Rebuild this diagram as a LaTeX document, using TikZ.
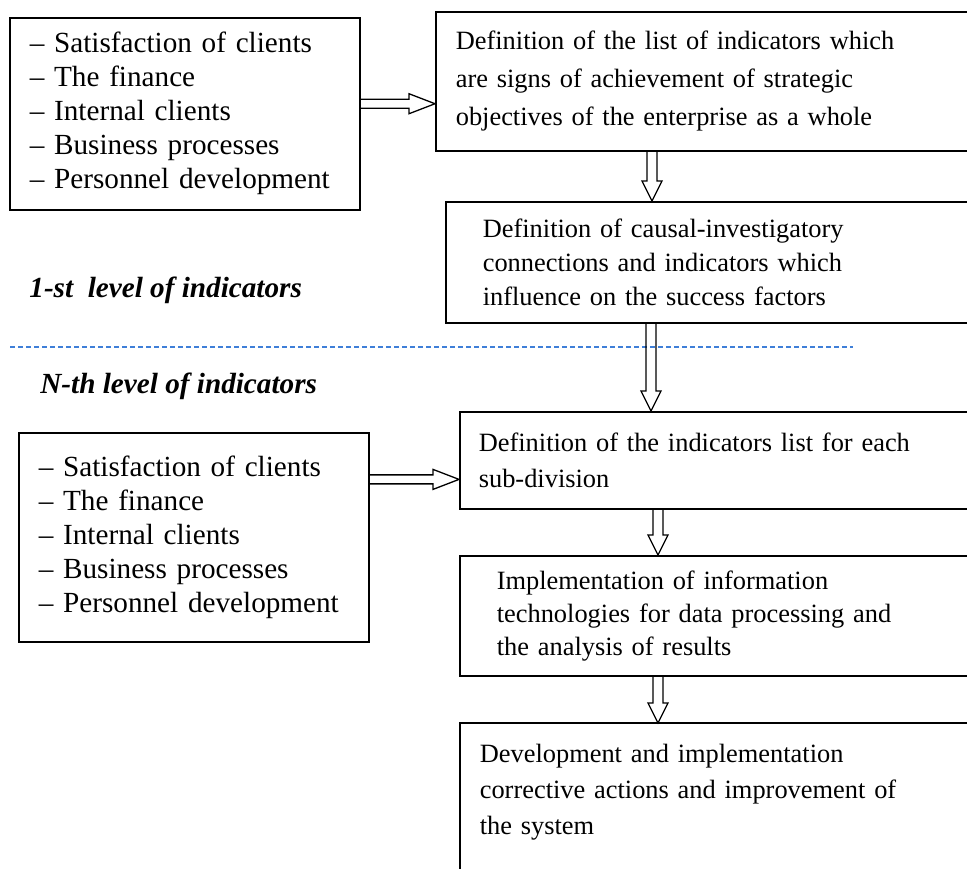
\documentclass[tikz,border=0pt]{standalone}
\usepackage{fontspec}
\setmainfont{Liberation Serif}
\usetikzlibrary{calc}
\definecolor{levelblue}{HTML}{3F7FD8}
\tikzset{
    stagebox/.style={
        draw, line width=0.8pt,
        anchor=north west, align=left,
        inner ysep=0pt,
        font=\fontsize{13.2}{17}\selectfont
    },
    listbox/.style={
        stagebox, inner xsep=10pt, text width=155pt,
        font=\fontsize{14.6}{17}\selectfont
    },
    levellabel/.style={
        anchor=base west, inner sep=0pt,
        font=\fontsize{14.6}{17}\selectfont\bfseries\itshape
    },
    divider/.style={
        levelblue, line width=0.6pt,
        dash pattern=on 2.5pt off 1.5pt
    },
    % hollow block arrows, shaft open at the start box
    harrow/.style={
        line width=0.65pt,
        to path={
            ($(\tikztostart)+(0,-4.5)$) -- ($(\tikztotarget)+(-26,-4.5)$)
            -- ($(\tikztotarget)+(-26,-10)$) -- (\tikztotarget)
            -- ($(\tikztotarget)+(-26,10)$) -- ($(\tikztotarget)+(-26,4.5)$)
            -- ($(\tikztostart)+(0,4.5)$)
        }
    },
    varrow/.style={
        line width=0.65pt,
        to path={
            ($(\tikztostart)+(-5,0)$) -- ($(\tikztotarget)+(-5,-20)$)
            -- ($(\tikztotarget)+(-10,-20)$) -- (\tikztotarget)
            -- ($(\tikztotarget)+(10,-20)$) -- ($(\tikztotarget)+(5,-20)$)
            -- ($(\tikztostart)+(5,0)$)
        }
    }
}

\begin{document}
\begin{tikzpicture}[x=0.5pt,y=-0.5pt]
    \useasboundingbox (0,0) rectangle (967,868);
    \clip (0,0) rectangle (967,868);

    % first level
    \node[listbox, minimum height=96pt] (goals1) at (9,17)
        {– Satisfaction of clients\\– The finance\\– Internal clients\\– Business processes\\– Personnel development};
    \node[stagebox, inner xsep=10pt, text width=262.5pt, minimum height=69.5pt,
          font=\fontsize{13.2}{19}\selectfont] (listall) at (435,11)
        {Definition of the list of indicators which\\are signs of achievement of strategic\\objectives of the enterprise as a whole};
    \node[stagebox, inner xsep=18.5pt, text width=240.5pt, minimum height=60.5pt] (causal) at (445,201)
        {Definition of causal-investigatory\\connections and indicators which\\influence on the success factors};
    \node[levellabel] (level1) at (29,297) {1-st~ level of indicators};

    \draw[divider] (10,347) -- (853,347);

    % N-th level
    \node[levellabel] (levelN) at (40,393) {N-th level of indicators};
    \node[listbox, minimum height=104.5pt] (goalsN) at (18,432)
        {– Satisfaction of clients\\– The finance\\– Internal clients\\– Business processes\\– Personnel development};
    \node[stagebox, inner xsep=9.5pt, text width=251.5pt, minimum height=48.5pt,
          font=\fontsize{13.2}{18}\selectfont] (listdiv) at (459,411)
        {Definition of the indicators list for each\\sub-division};
    \node[stagebox, inner xsep=18.5pt, text width=233.5pt, minimum height=60pt,
          font=\fontsize{13.2}{16.5}\selectfont] (infotech) at (459,555)
        {Implementation of information\\technologies for data processing and\\the analysis of results};
    \node[stagebox, draw=none, inner xsep=9.5pt, text width=251pt, minimum height=68pt,
          font=\fontsize{13.2}{18}\selectfont] (fix) at (460,723)
        {Development and implementation\\corrective actions and improvement of\\the system};
    \draw[line width=0.8pt] ([yshift=-20pt]fix.south west) -- (fix.north west)
        -- (fix.north east) -- ([yshift=-20pt]fix.south east);

    % connectors
    \coordinate (h1) at ($(goals1.north east)!0.448!(goals1.south east)$);
    \coordinate (h2) at ($(goalsN.north east)!0.225!(goalsN.south east)$);
    \coordinate (v1) at ([xshift=108.5pt]listall.south west);
    \coordinate (v2) at ([xshift=103pt]causal.south west);
    \coordinate (v3) at ([xshift=99.5pt]listdiv.south west);
    \coordinate (v4) at ([xshift=99.5pt]infotech.south west);

    \draw[harrow] (h1) to (h1 -| listall.west);
    \draw[harrow] (h2) to (h2 -| listdiv.west);
    \draw[varrow] (v1) to (v1 |- causal.north);
    \draw[varrow] (v2) to (v2 |- listdiv.north);
    \draw[varrow] (v3) to (v3 |- infotech.north);
    \draw[varrow] (v4) to (v4 |- fix.north);
\end{tikzpicture}
\end{document}
